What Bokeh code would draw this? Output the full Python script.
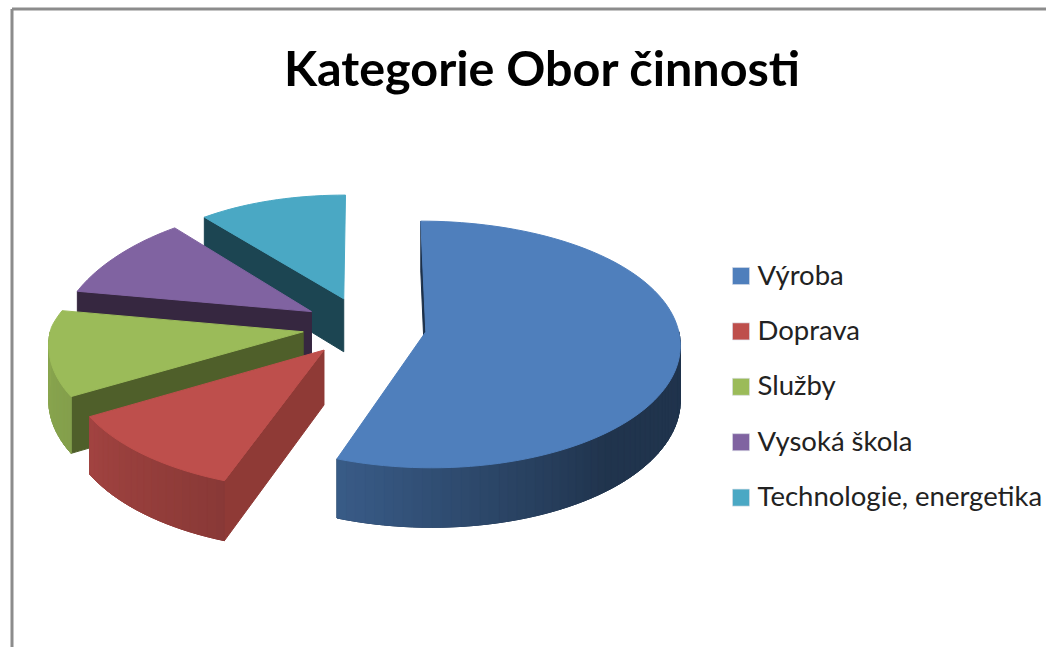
import math
from bokeh.core.properties import value
from bokeh.embed import file_html
from bokeh.models import Range1d
from bokeh.plotting import figure
from bokeh.resources import INLINE

TITLE = "Kategorie Obor činnosti"
CATEGORIES = ["Výroba", "Doprava", "Služby", "Vysoká škola", "Technologie, energetika"]
COUNTS = [5, 1, 1, 1, 1]

TOP_COLORS = ["#4F7FBC", "#BE4F4C", "#9BBB59", "#8063A1", "#4AA8C4"]
CUT_COLORS = ["#1C3049", "#8F3A36", "#4F5F2A", "#362740", "#1C4552"]

# projection of the disc plane onto the picture (picture pixels)
CX, CY, RADIUS, TILT, PERSP, DEPTH, EXPLODE = 364, 326, 252, 0.488, 0.000352, 54, 62
BACK_LEFT_PINCH = 1.05e-6  # extra convergence of the back-left quadrant
BACK_FLATTEN = 0.00012     # extra foreshortening behind the disc centre
ARC_STEP = 2.0  # degrees


def project(u, v, lowered=False):
    s = 1 / (1 - PERSP * v)
    pinch = 1 - BACK_LEFT_PINCH * max(-u, 0) * max(-v, 0)
    flatten = 1 - BACK_FLATTEN * max(-v, 0)
    return CX + u * s * pinch, CY + TILT * v * s * flatten + (DEPTH * s if lowered else 0)


def wall_shade(theta):
    stops = [(140, 0.41), (200, 0.72), (240, 0.85), (260, 0.88), (280, 0.90)]
    if theta <= stops[0][0]:
        return stops[0][1]
    for (a0, f0), (a1, f1) in zip(stops, stops[1:]):
        if theta <= a1:
            return f0 + (f1 - f0) * (theta - a0) / (a1 - a0)
    return stops[-1][1]


def scaled(hex_color, f):
    r, g, b = (int(hex_color[i:i + 2], 16) for i in (1, 3, 5))
    return "#%02x%02x%02x" % (round(r * f), round(g * f), round(b * f))


total = sum(COUNTS)
slices = []
start = 0.0
for i, c in enumerate(COUNTS):
    end = start + 360 * c / total
    slices.append((i, start, end))
    start = end

xs, ys, colors = [], [], []


def add(poly, color):
    xs.append([q[0] for q in poly])
    ys.append([q[1] for q in poly])
    colors.append(color)


# painter's order: back slices first, the large front slice last
for i, a0, a1 in [slices[4], slices[3], slices[2], slices[1], slices[0]]:
    mid = math.radians((a0 + a1) / 2)
    eu, ev = EXPLODE * math.sin(mid), -EXPLODE * math.cos(mid)

    def rim(theta, lowered=False):
        t = math.radians(theta)
        return project(eu + RADIUS * math.sin(t), ev - RADIUS * math.cos(t), lowered)

    apex, apex_low = project(eu, ev), project(eu, ev, True)
    # cut face along the leading edge
    add([apex, rim(a0), rim(a0, True), apex_low], CUT_COLORS[i])
    # outer rim, only where it faces the viewer
    n = int(round((a1 - a0) / ARC_STEP))
    angles = [a0 + (a1 - a0) * k / n for k in range(n + 1)]
    front = [t for t in angles if 90 <= t <= 270]
    if len(front) > 1:
        # a solid backing keeps the page from showing between the strips
        add([rim(t) for t in front] + [rim(t, True) for t in reversed(front)],
            scaled(TOP_COLORS[i], wall_shade(front[len(front) // 2])))
    for t0, t1 in zip(front, front[1:]):
        add([rim(t0), rim(t1), rim(t1, True), rim(t0, True)],
            scaled(TOP_COLORS[i], wall_shade((t0 + t1) / 2)))
    # top face
    add([apex] + [rim(t) for t in angles], TOP_COLORS[i])

p = figure(width=1046, height=647, output_backend="svg", toolbar_location=None,
           x_range=Range1d(0, 1046), y_range=Range1d(647, 0), min_border=0)
p.axis.visible = False
p.grid.visible = False
p.outline_line_color = None
p.background_fill_color = "white"

# chart frame
p.line([11.5, 11.5], [647, 8.5], line_color="#8C8C8C", line_width=3)
p.line([11.5, 1046], [8.5, 8.5], line_color="#8C8C8C", line_width=3)

p.patches(xs, ys, fill_color=colors, line_color=colors, line_width=1)

p.text([542], [66], text=[TITLE], text_font=value("Lato"), text_font_style="bold",
       text_font_size=value("48.5px"), text_align="center", text_baseline="alphabetic",
       text_color="#000000")

LEG_Y0, LEG_DY = 275.5, 55.4
leg_y = [LEG_Y0 + LEG_DY * k for k in range(len(CATEGORIES))]
p.rect([740.5] * 5, leg_y, width=17, height=17, fill_color=TOP_COLORS, line_color="#D6DCE6", line_width=0.6)
p.text([757] * 5, [y - 2 for y in leg_y], text=CATEGORIES, text_font=value("Lato"),
       text_font_size=value("27.5px"), text_align="left", text_baseline="middle", text_color="#222222")

open("out.html", "w").write(file_html(p, INLINE))
